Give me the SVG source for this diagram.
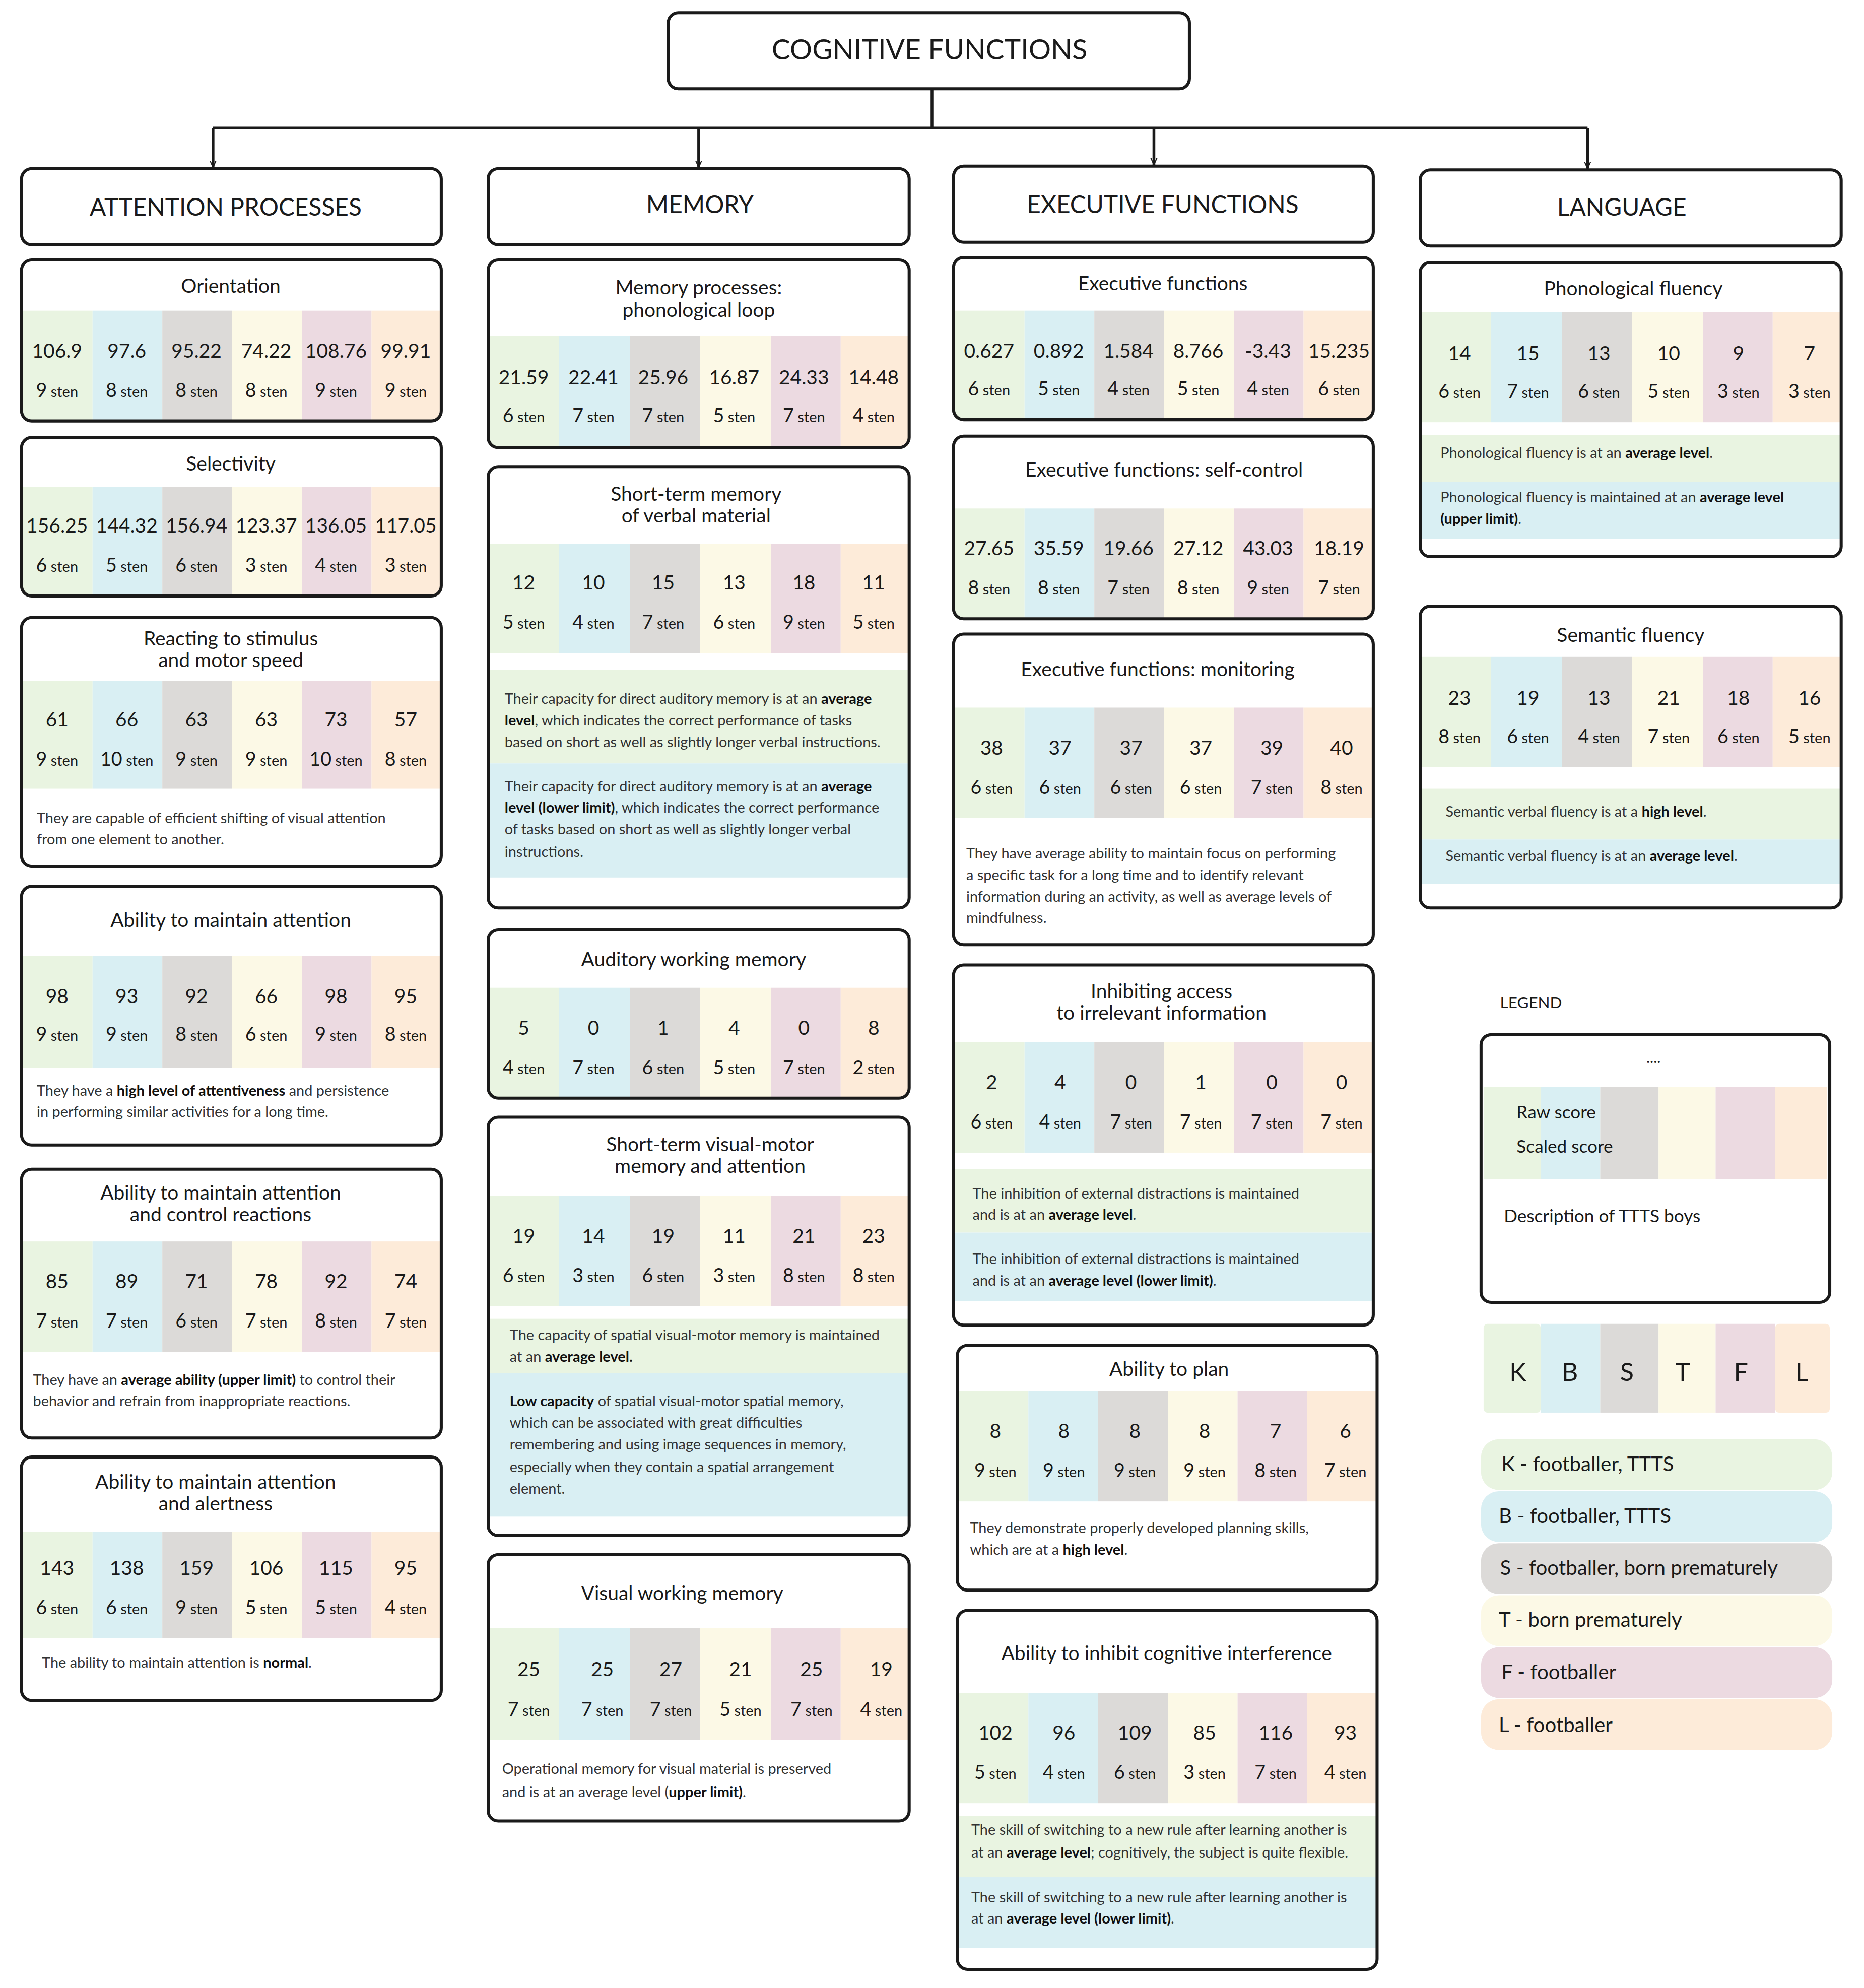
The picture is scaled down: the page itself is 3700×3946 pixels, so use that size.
<svg xmlns="http://www.w3.org/2000/svg" width="3700" height="3946" viewBox="0 0 3700 3946">
<style>
text{font-family:Lato,"Open Sans","Liberation Sans",sans-serif;fill:#1a1a1a}
.box{fill:none;stroke:#1a1a1a;stroke-width:2.4}
.hb{fill:#fff;stroke:#1a1a1a;stroke-width:2.4}
.a{fill:#e9f4e1}.b{fill:#d9eff3}.g{fill:#dcdad8}.y{fill:#fcf9e6}.p{fill:#ecdae1}.o{fill:#fdebd9}
.h{font-size:19px;text-anchor:middle}
.t{font-size:15.5px;text-anchor:middle}
.n{font-size:15.5px;text-anchor:middle}
.s{font-size:11.5px;text-anchor:middle}
.s tspan{font-size:15px}
.d{font-size:11.5px;fill:#333}
.d tspan{font-weight:bold;fill:#111}
.conn{fill:none;stroke:#1a1a1a;stroke-width:2.2}
.lg{font-size:16px}
</style>
<defs>
<marker id="ar" viewBox="0 0 10 10" refX="9" refY="5" markerWidth="6" markerHeight="6" orient="auto" markerUnits="userSpaceOnUse"><path d="M0,1 L9,5 L0,9" fill="none" stroke="#1a1a1a" stroke-width="1.4"/></marker>
</defs>
<rect width="3700" height="3946" fill="#fff"/>
<g transform="scale(2.517)">
<g id="connectors">
<path class="conn" d="M735,70 V101 M168,101 H1252"/>
<path class="conn" d="M168,101 V132" marker-end="url(#ar)"/>
<path class="conn" d="M551,101 V132" marker-end="url(#ar)"/>
<path class="conn" d="M910,101 V130" marker-end="url(#ar)"/>
<path class="conn" d="M1252,101 V133" marker-end="url(#ar)"/>
</g>
<g id="title"><rect class="hb" x="527" y="10" width="411" height="60" rx="8"/><text x="733" y="47" style="font-size:22px;text-anchor:middle">COGNITIVE FUNCTIONS</text></g>
<g id="h-attention"><rect class="hb" x="17" y="133" width="331" height="60" rx="8"/><text class="h" x="178" y="170">ATTENTION PROCESSES</text></g>
<g id="h-memory"><rect class="hb" x="385" y="133" width="332" height="60" rx="8"/><text class="h" x="552" y="168">MEMORY</text></g>
<g id="h-exec"><rect class="hb" x="752" y="131" width="331" height="60" rx="8"/><text class="h" x="917" y="168">EXECUTIVE FUNCTIONS</text></g>
<g id="h-lang"><rect class="hb" x="1120" y="134" width="332" height="60" rx="8"/><text class="h" x="1279" y="170">LANGUAGE</text></g>

<!-- Column 1 -->
<g id="orientation">
<rect class="a" x="18" y="245" width="55" height="86"/><rect class="b" x="73" y="245" width="55" height="86"/><rect class="g" x="128" y="245" width="55" height="86"/><rect class="y" x="183" y="245" width="55" height="86"/><rect class="p" x="238" y="245" width="55" height="86"/><rect class="o" x="293" y="245" width="54" height="86"/>
<rect class="box" x="17" y="205" width="331" height="127" rx="8"/>
<text class="t" x="182" y="231">Orientation</text>
<text class="n" x="45" y="282">106.9</text><text class="n" x="100" y="282">97.6</text><text class="n" x="155" y="282">95.22</text><text class="n" x="210" y="282">74.22</text><text class="n" x="265" y="282">108.76</text><text class="n" x="320" y="282">99.91</text>
<text class="s" x="45" y="313"><tspan>9</tspan> sten</text><text class="s" x="100" y="313"><tspan>8</tspan> sten</text><text class="s" x="155" y="313"><tspan>8</tspan> sten</text><text class="s" x="210" y="313"><tspan>8</tspan> sten</text><text class="s" x="265" y="313"><tspan>9</tspan> sten</text><text class="s" x="320" y="313"><tspan>9</tspan> sten</text>
</g>
<g id="selectivity">
<rect class="a" x="18" y="384" width="55" height="85"/><rect class="b" x="73" y="384" width="55" height="85"/><rect class="g" x="128" y="384" width="55" height="85"/><rect class="y" x="183" y="384" width="55" height="85"/><rect class="p" x="238" y="384" width="55" height="85"/><rect class="o" x="293" y="384" width="54" height="85"/>
<rect class="box" x="17" y="345" width="331" height="125" rx="8"/>
<text class="t" x="182" y="371">Selectivity</text>
<text class="n" x="45" y="420">156.25</text><text class="n" x="100" y="420">144.32</text><text class="n" x="155" y="420">156.94</text><text class="n" x="210" y="420">123.37</text><text class="n" x="265" y="420">136.05</text><text class="n" x="320" y="420">117.05</text>
<text class="s" x="45" y="451"><tspan>6</tspan> sten</text><text class="s" x="100" y="451"><tspan>5</tspan> sten</text><text class="s" x="155" y="451"><tspan>6</tspan> sten</text><text class="s" x="210" y="451"><tspan>3</tspan> sten</text><text class="s" x="265" y="451"><tspan>4</tspan> sten</text><text class="s" x="320" y="451"><tspan>3</tspan> sten</text>
</g>
<g id="reacting">
<rect class="a" x="18" y="537" width="55" height="85"/><rect class="b" x="73" y="537" width="55" height="85"/><rect class="g" x="128" y="537" width="55" height="85"/><rect class="y" x="183" y="537" width="55" height="85"/><rect class="p" x="238" y="537" width="55" height="85"/><rect class="o" x="293" y="537" width="54" height="85"/>
<rect class="box" x="17" y="487" width="331" height="196" rx="8"/>
<text class="t" x="182" y="509">Reacting to stimulus</text><text class="t" x="182" y="526">and motor speed</text>
<text class="n" x="45" y="573">61</text><text class="n" x="100" y="573">66</text><text class="n" x="155" y="573">63</text><text class="n" x="210" y="573">63</text><text class="n" x="265" y="573">73</text><text class="n" x="320" y="573">57</text>
<text class="s" x="45" y="604"><tspan>9</tspan> sten</text><text class="s" x="100" y="604"><tspan>10</tspan> sten</text><text class="s" x="155" y="604"><tspan>9</tspan> sten</text><text class="s" x="210" y="604"><tspan>9</tspan> sten</text><text class="s" x="265" y="604"><tspan>10</tspan> sten</text><text class="s" x="320" y="604"><tspan>8</tspan> sten</text>
<text class="d" x="29" y="649">They are capable of efficient shifting of visual attention</text><text class="d" x="29" y="666">from one element to another.</text>
</g>
<g id="maintain">
<rect class="a" x="18" y="754" width="55" height="88"/><rect class="b" x="73" y="754" width="55" height="88"/><rect class="g" x="128" y="754" width="55" height="88"/><rect class="y" x="183" y="754" width="55" height="88"/><rect class="p" x="238" y="754" width="55" height="88"/><rect class="o" x="293" y="754" width="54" height="88"/>
<rect class="box" x="17" y="699" width="331" height="204" rx="8"/>
<text class="t" x="182" y="731">Ability to maintain attention</text>
<text class="n" x="45" y="791">98</text><text class="n" x="100" y="791">93</text><text class="n" x="155" y="791">92</text><text class="n" x="210" y="791">66</text><text class="n" x="265" y="791">98</text><text class="n" x="320" y="791">95</text>
<text class="s" x="45" y="821"><tspan>9</tspan> sten</text><text class="s" x="100" y="821"><tspan>9</tspan> sten</text><text class="s" x="155" y="821"><tspan>8</tspan> sten</text><text class="s" x="210" y="821"><tspan>6</tspan> sten</text><text class="s" x="265" y="821"><tspan>9</tspan> sten</text><text class="s" x="320" y="821"><tspan>8</tspan> sten</text>
<text class="d" x="29" y="864">They have a <tspan>high level of attentiveness</tspan> and persistence</text><text class="d" x="29" y="881">in performing similar activities for a long time.</text>
</g>
<g id="control">
<rect class="a" x="18" y="979" width="55" height="87"/><rect class="b" x="73" y="979" width="55" height="87"/><rect class="g" x="128" y="979" width="55" height="87"/><rect class="y" x="183" y="979" width="55" height="87"/><rect class="p" x="238" y="979" width="55" height="87"/><rect class="o" x="293" y="979" width="54" height="87"/>
<rect class="box" x="17" y="922" width="331" height="212" rx="8"/>
<text class="t" x="174" y="946">Ability to maintain attention</text><text class="t" x="174" y="963">and control reactions</text>
<text class="n" x="45" y="1016">85</text><text class="n" x="100" y="1016">89</text><text class="n" x="155" y="1016">71</text><text class="n" x="210" y="1016">78</text><text class="n" x="265" y="1016">92</text><text class="n" x="320" y="1016">74</text>
<text class="s" x="45" y="1047"><tspan>7</tspan> sten</text><text class="s" x="100" y="1047"><tspan>7</tspan> sten</text><text class="s" x="155" y="1047"><tspan>6</tspan> sten</text><text class="s" x="210" y="1047"><tspan>7</tspan> sten</text><text class="s" x="265" y="1047"><tspan>8</tspan> sten</text><text class="s" x="320" y="1047"><tspan>7</tspan> sten</text>
<text class="d" x="26" y="1092">They have an <tspan>average ability (upper limit)</tspan> to control their</text><text class="d" x="26" y="1109">behavior and refrain from inappropriate reactions.</text>
</g>
<g id="alertness">
<rect class="a" x="18" y="1208" width="55" height="84"/><rect class="b" x="73" y="1208" width="55" height="84"/><rect class="g" x="128" y="1208" width="55" height="84"/><rect class="y" x="183" y="1208" width="55" height="84"/><rect class="p" x="238" y="1208" width="55" height="84"/><rect class="o" x="293" y="1208" width="54" height="84"/>
<rect class="box" x="17" y="1149" width="331" height="192" rx="8"/>
<text class="t" x="170" y="1174">Ability to maintain attention</text><text class="t" x="170" y="1191">and alertness</text>
<text class="n" x="45" y="1242">143</text><text class="n" x="100" y="1242">138</text><text class="n" x="155" y="1242">159</text><text class="n" x="210" y="1242">106</text><text class="n" x="265" y="1242">115</text><text class="n" x="320" y="1242">95</text>
<text class="s" x="45" y="1273"><tspan>6</tspan> sten</text><text class="s" x="100" y="1273"><tspan>6</tspan> sten</text><text class="s" x="155" y="1273"><tspan>9</tspan> sten</text><text class="s" x="210" y="1273"><tspan>5</tspan> sten</text><text class="s" x="265" y="1273"><tspan>5</tspan> sten</text><text class="s" x="320" y="1273"><tspan>4</tspan> sten</text>
<text class="d" x="33" y="1315">The ability to maintain attention is <tspan>normal</tspan>.</text>
</g>

<!-- Column 2 -->
<g id="phonloop">
<rect class="a" x="386" y="265" width="55" height="87"/><rect class="b" x="441" y="265" width="56" height="87"/><rect class="g" x="497" y="265" width="55" height="87"/><rect class="y" x="552" y="265" width="56" height="87"/><rect class="p" x="608" y="265" width="55" height="87"/><rect class="o" x="663" y="265" width="53" height="87"/>
<rect class="box" x="385" y="205" width="332" height="148" rx="8"/>
<text class="t" x="551" y="232">Memory processes:</text><text class="t" x="551" y="250">phonological loop</text>
<text class="n" x="413" y="303">21.59</text><text class="n" x="468" y="303">22.41</text><text class="n" x="523" y="303">25.96</text><text class="n" x="579" y="303">16.87</text><text class="n" x="634" y="303">24.33</text><text class="n" x="689" y="303">14.48</text>
<text class="s" x="413" y="333"><tspan>6</tspan> sten</text><text class="s" x="468" y="333"><tspan>7</tspan> sten</text><text class="s" x="523" y="333"><tspan>7</tspan> sten</text><text class="s" x="579" y="333"><tspan>5</tspan> sten</text><text class="s" x="634" y="333"><tspan>7</tspan> sten</text><text class="s" x="689" y="333"><tspan>4</tspan> sten</text>
</g>
<g id="verbal">
<rect class="a" x="386" y="429" width="55" height="86"/><rect class="b" x="441" y="429" width="56" height="86"/><rect class="g" x="497" y="429" width="55" height="86"/><rect class="y" x="552" y="429" width="56" height="86"/><rect class="p" x="608" y="429" width="55" height="86"/><rect class="o" x="663" y="429" width="53" height="86"/>
<rect class="a" x="386" y="528" width="330" height="74"/><rect class="b" x="386" y="602" width="330" height="90"/>
<rect class="box" x="385" y="368" width="332" height="348" rx="8"/>
<text class="t" x="549" y="395">Short-term memory</text><text class="t" x="549" y="412">of verbal material</text>
<text class="n" x="413" y="465">12</text><text class="n" x="468" y="465">10</text><text class="n" x="523" y="465">15</text><text class="n" x="579" y="465">13</text><text class="n" x="634" y="465">18</text><text class="n" x="689" y="465">11</text>
<text class="s" x="413" y="496"><tspan>5</tspan> sten</text><text class="s" x="468" y="496"><tspan>4</tspan> sten</text><text class="s" x="523" y="496"><tspan>7</tspan> sten</text><text class="s" x="579" y="496"><tspan>6</tspan> sten</text><text class="s" x="634" y="496"><tspan>9</tspan> sten</text><text class="s" x="689" y="496"><tspan>5</tspan> sten</text>
<text class="d" x="398" y="555">Their capacity for direct auditory memory is at an <tspan>average</tspan></text><text class="d" x="398" y="572"><tspan>level</tspan>, which indicates the correct performance of tasks</text><text class="d" x="398" y="589">based on short as well as slightly longer verbal instructions.</text>
<text class="d" x="398" y="624">Their capacity for direct auditory memory is at an <tspan>average</tspan></text><text class="d" x="398" y="641"><tspan>level (lower limit)</tspan>, which indicates the correct performance</text><text class="d" x="398" y="658">of tasks based on short as well as slightly longer verbal</text><text class="d" x="398" y="676">instructions.</text>
</g>
<g id="auditory">
<rect class="a" x="386" y="779" width="55" height="86"/><rect class="b" x="441" y="779" width="56" height="86"/><rect class="g" x="497" y="779" width="55" height="86"/><rect class="y" x="552" y="779" width="56" height="86"/><rect class="p" x="608" y="779" width="55" height="86"/><rect class="o" x="663" y="779" width="53" height="86"/>
<rect class="box" x="385" y="733" width="332" height="133" rx="8"/>
<text class="t" x="547" y="762">Auditory working memory</text>
<text class="n" x="413" y="816">5</text><text class="n" x="468" y="816">0</text><text class="n" x="523" y="816">1</text><text class="n" x="579" y="816">4</text><text class="n" x="634" y="816">0</text><text class="n" x="689" y="816">8</text>
<text class="s" x="413" y="847"><tspan>4</tspan> sten</text><text class="s" x="468" y="847"><tspan>7</tspan> sten</text><text class="s" x="523" y="847"><tspan>6</tspan> sten</text><text class="s" x="579" y="847"><tspan>5</tspan> sten</text><text class="s" x="634" y="847"><tspan>7</tspan> sten</text><text class="s" x="689" y="847"><tspan>2</tspan> sten</text>
</g>
<g id="visualmotor">
<rect class="a" x="386" y="943" width="55" height="87"/><rect class="b" x="441" y="943" width="56" height="87"/><rect class="g" x="497" y="943" width="55" height="87"/><rect class="y" x="552" y="943" width="56" height="87"/><rect class="p" x="608" y="943" width="55" height="87"/><rect class="o" x="663" y="943" width="53" height="87"/>
<rect class="a" x="386" y="1040" width="330" height="43"/><rect class="b" x="386" y="1083" width="330" height="113"/>
<rect class="box" x="385" y="881" width="332" height="330" rx="8"/>
<text class="t" x="560" y="908">Short-term visual-motor</text><text class="t" x="560" y="925">memory and attention</text>
<text class="n" x="413" y="980">19</text><text class="n" x="468" y="980">14</text><text class="n" x="523" y="980">19</text><text class="n" x="579" y="980">11</text><text class="n" x="634" y="980">21</text><text class="n" x="689" y="980">23</text>
<text class="s" x="413" y="1011"><tspan>6</tspan> sten</text><text class="s" x="468" y="1011"><tspan>3</tspan> sten</text><text class="s" x="523" y="1011"><tspan>6</tspan> sten</text><text class="s" x="579" y="1011"><tspan>3</tspan> sten</text><text class="s" x="634" y="1011"><tspan>8</tspan> sten</text><text class="s" x="689" y="1011"><tspan>8</tspan> sten</text>
<text class="d" x="402" y="1057">The capacity of spatial visual-motor memory is maintained</text><text class="d" x="402" y="1074">at an <tspan>average level.</tspan></text>
<text class="d" x="402" y="1109"><tspan>Low capacity</tspan> of spatial visual-motor spatial memory,</text><text class="d" x="402" y="1126">which can be associated with great difficulties</text><text class="d" x="402" y="1143">remembering and using image sequences in memory,</text><text class="d" x="402" y="1161">especially when they contain a spatial arrangement</text><text class="d" x="402" y="1178">element.</text>
</g>
<g id="visualworking">
<rect class="a" x="386" y="1284" width="55" height="88"/><rect class="b" x="441" y="1284" width="56" height="88"/><rect class="g" x="497" y="1284" width="55" height="88"/><rect class="y" x="552" y="1284" width="56" height="88"/><rect class="p" x="608" y="1284" width="55" height="88"/><rect class="o" x="663" y="1284" width="53" height="88"/>
<rect class="box" x="385" y="1226" width="332" height="210" rx="8"/>
<text class="t" x="538" y="1262">Visual working memory</text>
<text class="n" x="417" y="1322">25</text><text class="n" x="475" y="1322">25</text><text class="n" x="529" y="1322">27</text><text class="n" x="584" y="1322">21</text><text class="n" x="640" y="1322">25</text><text class="n" x="695" y="1322">19</text>
<text class="s" x="417" y="1353"><tspan>7</tspan> sten</text><text class="s" x="475" y="1353"><tspan>7</tspan> sten</text><text class="s" x="529" y="1353"><tspan>7</tspan> sten</text><text class="s" x="584" y="1353"><tspan>5</tspan> sten</text><text class="s" x="640" y="1353"><tspan>7</tspan> sten</text><text class="s" x="695" y="1353"><tspan>4</tspan> sten</text>
<text class="d" x="396" y="1399">Operational memory for visual material is preserved</text><text class="d" x="396" y="1417">and is at an average level (<tspan>upper limit)</tspan>.</text>
</g>

<!-- Column 3 -->
<g id="execfn">
<rect class="a" x="753" y="245" width="55" height="85"/><rect class="b" x="808" y="245" width="55" height="85"/><rect class="g" x="863" y="245" width="55" height="85"/><rect class="y" x="918" y="245" width="55" height="85"/><rect class="p" x="973" y="245" width="55" height="85"/><rect class="o" x="1028" y="245" width="54" height="85"/>
<rect class="box" x="752" y="203" width="331" height="128" rx="8"/>
<text class="t" x="917" y="229">Executive functions</text>
<text class="n" x="780" y="282">0.627</text><text class="n" x="835" y="282">0.892</text><text class="n" x="890" y="282">1.584</text><text class="n" x="945" y="282">8.766</text><text class="n" x="1000" y="282">-3.43</text><text class="n" x="1056" y="282">15.235</text>
<text class="s" x="780" y="312"><tspan>6</tspan> sten</text><text class="s" x="835" y="312"><tspan>5</tspan> sten</text><text class="s" x="890" y="312"><tspan>4</tspan> sten</text><text class="s" x="945" y="312"><tspan>5</tspan> sten</text><text class="s" x="1000" y="312"><tspan>4</tspan> sten</text><text class="s" x="1056" y="312"><tspan>6</tspan> sten</text>
</g>
<g id="selfcontrol">
<rect class="a" x="753" y="401" width="55" height="86"/><rect class="b" x="808" y="401" width="55" height="86"/><rect class="g" x="863" y="401" width="55" height="86"/><rect class="y" x="918" y="401" width="55" height="86"/><rect class="p" x="973" y="401" width="55" height="86"/><rect class="o" x="1028" y="401" width="54" height="86"/>
<rect class="box" x="752" y="344" width="331" height="144" rx="8"/>
<text class="t" x="918" y="376">Executive functions: self-control</text>
<text class="n" x="780" y="438">27.65</text><text class="n" x="835" y="438">35.59</text><text class="n" x="890" y="438">19.66</text><text class="n" x="945" y="438">27.12</text><text class="n" x="1000" y="438">43.03</text><text class="n" x="1056" y="438">18.19</text>
<text class="s" x="780" y="469"><tspan>8</tspan> sten</text><text class="s" x="835" y="469"><tspan>8</tspan> sten</text><text class="s" x="890" y="469"><tspan>7</tspan> sten</text><text class="s" x="945" y="469"><tspan>8</tspan> sten</text><text class="s" x="1000" y="469"><tspan>9</tspan> sten</text><text class="s" x="1056" y="469"><tspan>7</tspan> sten</text>
</g>
<g id="monitoring">
<rect class="a" x="753" y="558" width="55" height="87"/><rect class="b" x="808" y="558" width="55" height="87"/><rect class="g" x="863" y="558" width="55" height="87"/><rect class="y" x="918" y="558" width="55" height="87"/><rect class="p" x="973" y="558" width="55" height="87"/><rect class="o" x="1028" y="558" width="54" height="87"/>
<rect class="box" x="752" y="500" width="331" height="245" rx="8"/>
<text class="t" x="913" y="533">Executive functions: monitoring</text>
<text class="n" x="782" y="595">38</text><text class="n" x="836" y="595">37</text><text class="n" x="892" y="595">37</text><text class="n" x="947" y="595">37</text><text class="n" x="1003" y="595">39</text><text class="n" x="1058" y="595">40</text>
<text class="s" x="782" y="626"><tspan>6</tspan> sten</text><text class="s" x="836" y="626"><tspan>6</tspan> sten</text><text class="s" x="892" y="626"><tspan>6</tspan> sten</text><text class="s" x="947" y="626"><tspan>6</tspan> sten</text><text class="s" x="1003" y="626"><tspan>7</tspan> sten</text><text class="s" x="1058" y="626"><tspan>8</tspan> sten</text>
<text class="d" x="762" y="677">They have average ability to maintain focus on performing</text><text class="d" x="762" y="694">a specific task for a long time and to identify relevant</text><text class="d" x="762" y="711">information during an activity, as well as average levels of</text><text class="d" x="762" y="728">mindfulness.</text>
</g>
<g id="inhibiting">
<rect class="a" x="753" y="822" width="55" height="87"/><rect class="b" x="808" y="822" width="55" height="87"/><rect class="g" x="863" y="822" width="55" height="87"/><rect class="y" x="918" y="822" width="55" height="87"/><rect class="p" x="973" y="822" width="55" height="87"/><rect class="o" x="1028" y="822" width="54" height="87"/>
<rect class="a" x="753" y="922" width="329" height="50"/><rect class="b" x="753" y="972" width="329" height="54"/>
<rect class="box" x="752" y="761" width="331" height="284" rx="8"/>
<text class="t" x="916" y="787">Inhibiting access</text><text class="t" x="916" y="804">to irrelevant information</text>
<text class="n" x="782" y="859">2</text><text class="n" x="836" y="859">4</text><text class="n" x="892" y="859">0</text><text class="n" x="947" y="859">1</text><text class="n" x="1003" y="859">0</text><text class="n" x="1058" y="859">0</text>
<text class="s" x="782" y="890"><tspan>6</tspan> sten</text><text class="s" x="836" y="890"><tspan>4</tspan> sten</text><text class="s" x="892" y="890"><tspan>7</tspan> sten</text><text class="s" x="947" y="890"><tspan>7</tspan> sten</text><text class="s" x="1003" y="890"><tspan>7</tspan> sten</text><text class="s" x="1058" y="890"><tspan>7</tspan> sten</text>
<text class="d" x="767" y="945">The inhibition of external distractions is maintained</text><text class="d" x="767" y="962">and is at an <tspan>average level</tspan>.</text>
<text class="d" x="767" y="997">The inhibition of external distractions is maintained</text><text class="d" x="767" y="1014">and is at an <tspan>average level (lower limit)</tspan>.</text>
</g>
<g id="plan">
<rect class="a" x="756" y="1097" width="55" height="87"/><rect class="b" x="811" y="1097" width="55" height="87"/><rect class="g" x="866" y="1097" width="55" height="87"/><rect class="y" x="921" y="1097" width="55" height="87"/><rect class="p" x="976" y="1097" width="55" height="87"/><rect class="o" x="1031" y="1097" width="54" height="87"/>
<rect class="box" x="755" y="1061" width="331" height="193" rx="8"/>
<text class="t" x="922" y="1085">Ability to plan</text>
<text class="n" x="785" y="1134">8</text><text class="n" x="839" y="1134">8</text><text class="n" x="895" y="1134">8</text><text class="n" x="950" y="1134">8</text><text class="n" x="1006" y="1134">7</text><text class="n" x="1061" y="1134">6</text>
<text class="s" x="785" y="1165"><tspan>9</tspan> sten</text><text class="s" x="839" y="1165"><tspan>9</tspan> sten</text><text class="s" x="895" y="1165"><tspan>9</tspan> sten</text><text class="s" x="950" y="1165"><tspan>9</tspan> sten</text><text class="s" x="1006" y="1165"><tspan>8</tspan> sten</text><text class="s" x="1061" y="1165"><tspan>7</tspan> sten</text>
<text class="d" x="765" y="1209">They demonstrate properly developed planning skills,</text><text class="d" x="765" y="1226">which are at a <tspan>high level</tspan>.</text>
</g>
<g id="interference">
<rect class="a" x="756" y="1335" width="55" height="87"/><rect class="b" x="811" y="1335" width="55" height="87"/><rect class="g" x="866" y="1335" width="55" height="87"/><rect class="y" x="921" y="1335" width="55" height="87"/><rect class="p" x="976" y="1335" width="55" height="87"/><rect class="o" x="1031" y="1335" width="54" height="87"/>
<rect class="a" x="756" y="1432" width="329" height="48"/><rect class="b" x="756" y="1480" width="329" height="56"/>
<rect class="box" x="755" y="1270" width="331" height="283" rx="8"/>
<text class="t" x="920" y="1309">Ability to inhibit cognitive interference</text>
<text class="n" x="785" y="1372">102</text><text class="n" x="839" y="1372">96</text><text class="n" x="895" y="1372">109</text><text class="n" x="950" y="1372">85</text><text class="n" x="1006" y="1372">116</text><text class="n" x="1061" y="1372">93</text>
<text class="s" x="785" y="1403"><tspan>5</tspan> sten</text><text class="s" x="839" y="1403"><tspan>4</tspan> sten</text><text class="s" x="895" y="1403"><tspan>6</tspan> sten</text><text class="s" x="950" y="1403"><tspan>3</tspan> sten</text><text class="s" x="1006" y="1403"><tspan>7</tspan> sten</text><text class="s" x="1061" y="1403"><tspan>4</tspan> sten</text>
<text class="d" x="766" y="1447">The skill of switching to a new rule after learning another is</text><text class="d" x="766" y="1465">at an <tspan>average level</tspan>; cognitively, the subject is quite flexible.</text>
<text class="d" x="766" y="1500">The skill of switching to a new rule after learning another is</text><text class="d" x="766" y="1517">at an <tspan>average level (lower limit)</tspan>.</text>
</g>

<!-- Column 4 -->
<g id="phonfluency">
<rect class="a" x="1121" y="246" width="55" height="87"/><rect class="b" x="1176" y="246" width="56" height="87"/><rect class="g" x="1232" y="246" width="55" height="87"/><rect class="y" x="1287" y="246" width="56" height="87"/><rect class="p" x="1343" y="246" width="55" height="87"/><rect class="o" x="1398" y="246" width="53" height="87"/>
<rect class="a" x="1121" y="343" width="330" height="37"/><rect class="b" x="1121" y="380" width="330" height="45"/>
<rect class="box" x="1120" y="207" width="332" height="232" rx="8"/>
<text class="t" x="1288" y="233">Phonological fluency</text>
<text class="n" x="1151" y="284">14</text><text class="n" x="1205" y="284">15</text><text class="n" x="1261" y="284">13</text><text class="n" x="1316" y="284">10</text><text class="n" x="1371" y="284">9</text><text class="n" x="1427" y="284">7</text>
<text class="s" x="1151" y="314"><tspan>6</tspan> sten</text><text class="s" x="1205" y="314"><tspan>7</tspan> sten</text><text class="s" x="1261" y="314"><tspan>6</tspan> sten</text><text class="s" x="1316" y="314"><tspan>5</tspan> sten</text><text class="s" x="1371" y="314"><tspan>3</tspan> sten</text><text class="s" x="1427" y="314"><tspan>3</tspan> sten</text>
<text class="d" x="1136" y="361">Phonological fluency is at an <tspan>average level</tspan>.</text>
<text class="d" x="1136" y="396">Phonological fluency is maintained at an <tspan>average level</tspan></text><text class="d" x="1136" y="413"><tspan>(upper limit)</tspan>.</text>
</g>
<g id="semfluency">
<rect class="a" x="1121" y="518" width="55" height="87"/><rect class="b" x="1176" y="518" width="56" height="87"/><rect class="g" x="1232" y="518" width="55" height="87"/><rect class="y" x="1287" y="518" width="56" height="87"/><rect class="p" x="1343" y="518" width="55" height="87"/><rect class="o" x="1398" y="518" width="53" height="87"/>
<rect class="a" x="1121" y="622" width="330" height="40"/><rect class="b" x="1121" y="662" width="330" height="35"/>
<rect class="box" x="1120" y="478" width="332" height="238" rx="8"/>
<text class="t" x="1286" y="506">Semantic fluency</text>
<text class="n" x="1151" y="556">23</text><text class="n" x="1205" y="556">19</text><text class="n" x="1261" y="556">13</text><text class="n" x="1316" y="556">21</text><text class="n" x="1371" y="556">18</text><text class="n" x="1427" y="556">16</text>
<text class="s" x="1151" y="586"><tspan>8</tspan> sten</text><text class="s" x="1205" y="586"><tspan>6</tspan> sten</text><text class="s" x="1261" y="586"><tspan>4</tspan> sten</text><text class="s" x="1316" y="586"><tspan>7</tspan> sten</text><text class="s" x="1371" y="586"><tspan>6</tspan> sten</text><text class="s" x="1427" y="586"><tspan>5</tspan> sten</text>
<text class="d" x="1140" y="644">Semantic verbal fluency is at a  <tspan>high level</tspan>.</text>
<text class="d" x="1140" y="679">Semantic verbal fluency is at an <tspan>average level</tspan>.</text>
</g>

<g id="legend">
<text x="1183" y="795" style="font-size:12.5px">LEGEND</text>
<rect class="a" x="1170" y="857" width="45" height="73"/><rect class="b" x="1215" y="857" width="47" height="73"/><rect class="g" x="1262" y="857" width="46" height="73"/><rect class="y" x="1308" y="857" width="45" height="73"/><rect class="p" x="1353" y="857" width="47" height="73"/><rect class="o" x="1400" y="857" width="41" height="73"/>
<rect class="box" x="1168" y="816" width="275" height="211" rx="8"/>
<text x="1304" y="838" style="font-size:12px;text-anchor:middle">....</text>
<text x="1196" y="882" style="font-size:14px">Raw score</text>
<text x="1196" y="909" style="font-size:14px">Scaled score</text>
<text x="1186" y="964" style="font-size:14px">Description of TTTS boys</text>
<rect class="a" x="1170" y="1044" width="45" height="70" rx="3"/><rect class="b" x="1215" y="1044" width="47" height="70"/><rect class="g" x="1262" y="1044" width="46" height="70"/><rect class="y" x="1308" y="1044" width="45" height="70"/><rect class="p" x="1353" y="1044" width="47" height="70"/><rect class="o" x="1400" y="1044" width="43" height="70" rx="3"/>
<text class="lg" x="1197" y="1089" style="font-size:20px;text-anchor:middle">K</text><text x="1238" y="1089" style="font-size:20px;text-anchor:middle">B</text><text x="1283" y="1089" style="font-size:20px;text-anchor:middle">S</text><text x="1327" y="1089" style="font-size:20px;text-anchor:middle">T</text><text x="1373" y="1089" style="font-size:20px;text-anchor:middle">F</text><text x="1421" y="1089" style="font-size:20px;text-anchor:middle">L</text>
<rect class="a" x="1168" y="1135" width="277" height="40" rx="14"/><text class="lg" x="1184" y="1160">K - footballer, TTTS</text>
<rect class="b" x="1168" y="1176" width="277" height="40" rx="14"/><text class="lg" x="1182" y="1201">B - footballer, TTTS</text>
<rect class="g" x="1168" y="1217" width="277" height="40" rx="14"/><text class="lg" x="1183" y="1242">S - footballer, born prematurely</text>
<rect class="y" x="1168" y="1258" width="277" height="40" rx="14"/><text class="lg" x="1182" y="1283">T - born prematurely</text>
<rect class="p" x="1168" y="1299" width="277" height="40" rx="14"/><text class="lg" x="1184" y="1324">F - footballer</text>
<rect class="o" x="1168" y="1340" width="277" height="40" rx="14"/><text class="lg" x="1182" y="1366">L - footballer</text>
</g>
</g>
</svg>
